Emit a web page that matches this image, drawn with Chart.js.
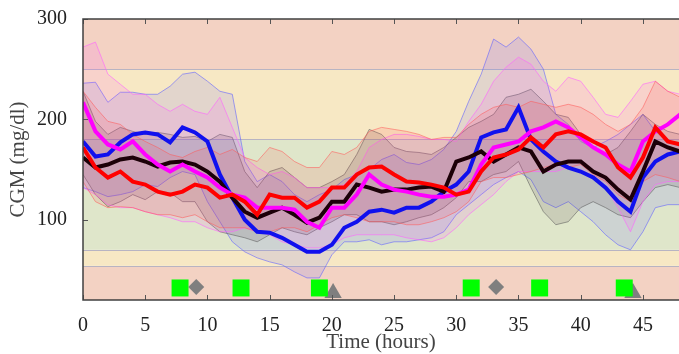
<!DOCTYPE html>
<html>
<head>
<meta charset="utf-8">
<script src="https://cdn.jsdelivr.net/npm/chart.js@4.4.1/dist/chart.umd.min.js"></script>
<style>
  html, body { margin: 0; padding: 0; background: #fff; }
  #wrap { width: 679px; height: 354px; }
</style>
</head>
<body>
<div id="wrap"><canvas id="cgmChart"></canvas></div>
<script>
// Time axis (hours)
const hours = [0,1,2,3,4,5,6,7,8,9,10,11,12,13,14,15,16,17,18,19,20,21,22,23,24,
               25,26,27,28,29,30,31,32,33,34,35,36,37,38,39,40,41,42,43,44,45,46,47,48];
const xTickValues = [0, 5, 10, 15, 20, 25, 30, 35, 40, 45];
const yTickValues = [100, 200, 300];

// Glycaemic zones (mg/dl) and their colours
const zoneEdges = [0, 54, 70, 180, 250, 400];
const zoneColors = ['#f3d2c3', '#f7e8c4', '#dfe6ca', '#f7e8c4', '#f3d2c3'];

// Mean curves
const blueMean    = [178,163,165,177,185,187,185,177,192,187,178,145,122,100,88,87,82,75,68,68,75,92,98,108,110,
                     107,112,112,118,128,135,148,182,187,190,212,180,168,158,152,148,142,132,118,108,142,158,165,168];
const blackMean   = [162,152,155,160,162,158,153,157,158,155,148,138,122,108,102,107,112,105,97,102,118,118,135,132,128,
                     130,130,132,133,128,158,162,168,158,165,172,168,148,155,158,158,148,142,130,120,148,178,172,168];
const magentaMean = [217,188,175,170,178,165,155,148,155,148,142,132,125,122,112,112,112,110,98,92,112,112,125,145,135,
                     130,128,125,123,123,125,130,155,172,175,178,188,192,198,192,182,172,165,155,148,178,188,195,205];
const redMean     = [172,152,142,148,138,135,128,125,128,135,132,122,125,118,105,125,122,122,112,118,132,132,145,152,153,
                     145,138,137,135,132,125,128,148,162,165,170,182,172,185,188,185,178,172,152,142,162,192,178,175];

// Spread bands (upper / lower)
const blueUpper  = [236,237,217,227,227,225,225,233,245,247,238,228,225,158,138,145,138,125,118,125,130,140,145,150,160,
                    165,157,155,160,170,188,218,245,280,272,282,270,250,205,195,178,172,178,185,195,205,188,178,175];
const blueLower  = [132,128,123,125,128,135,133,142,148,145,118,98,78,68,62,58,55,48,42,42,65,78,78,80,75,
                    78,78,80,82,88,105,115,125,135,142,148,140,118,112,118,108,98,85,75,70,88,112,115,115];
const grayUpper  = [228,198,185,192,188,185,187,185,182,183,178,185,182,148,132,148,152,142,132,132,138,145,165,190,185,
                    172,168,167,165,172,182,192,198,205,222,225,230,218,205,202,185,172,165,172,188,205,195,188,185];
const grayLower  = [145,125,113,118,125,120,128,127,118,118,98,88,85,82,78,85,92,88,85,92,98,105,105,98,98,
                    95,98,102,105,112,122,138,138,145,148,158,132,108,95,98,112,118,112,105,102,118,132,135,132];
const pinkUpper  = [272,277,245,235,225,225,215,208,215,208,205,222,192,162,152,145,148,142,132,132,132,135,148,172,180,
                    185,185,183,180,180,178,198,215,238,252,262,255,238,228,242,238,222,205,202,218,235,238,228,225];
const pinkLower  = [132,125,115,112,112,108,105,102,98,98,92,88,88,92,88,85,78,75,72,72,75,82,85,85,85,
                    85,82,80,78,82,92,105,115,125,138,148,148,148,148,152,148,142,132,112,88,118,135,138,138];
const redUpper   = [228,212,198,195,185,178,172,165,162,168,172,165,170,162,158,172,168,158,152,152,168,165,172,188,192,
                    190,188,185,180,182,182,195,205,212,215,212,218,215,212,215,212,205,195,188,195,212,238,228,222];
const redLower   = [138,118,112,113,112,108,105,105,102,105,98,92,92,92,88,88,92,92,88,95,102,105,102,98,98,
                    98,95,95,98,102,108,118,138,142,142,145,148,152,155,152,155,145,138,125,118,138,145,142,138];

// Event markers along the bottom
const mealTimes = [7.8, 12.7, 19.0, 31.2, 36.7, 43.5];
const insulinTimes = [9.1, 33.2];
const exerciseTimes = [20.1, 44.2];
const mealLevel = 32;
const insulinLevel = 33;
const exerciseLevel = 27;

const toPoints = (values) => values.map((v, i) => ({ x: hours[i], y: v }));
const toEvents = (times, level) => times.map(t => ({ x: t, y: level }));

function bandPair(upper, lower, lineColor, fillColor) {
    return [
        {
            data: toPoints(upper),
            borderColor: lineColor,
            borderWidth: 1,
            pointRadius: 0,
            fill: false,
            order: 20
        },
        {
            data: toPoints(lower),
            borderColor: lineColor,
            borderWidth: 1,
            pointRadius: 0,
            backgroundColor: fillColor,
            fill: '-1',
            order: 20
        }
    ];
}

function meanLine(values, color, order) {
    return {
        data: toPoints(values),
        borderColor: color,
        borderWidth: 4,
        pointRadius: 0,
        fill: false,
        order: order
    };
}

// Zone backgrounds and boundary lines
const zonePlugin = {
    id: 'zones',
    beforeDatasetsDraw(chart) {
        const { ctx, chartArea: a, scales: { y } } = chart;
        ctx.save();
        for (let i = 0; i < zoneColors.length; i++) {
            const top = y.getPixelForValue(Math.min(zoneEdges[i + 1], y.max));
            const bottom = y.getPixelForValue(Math.max(zoneEdges[i], y.min));
            ctx.fillStyle = zoneColors[i];
            ctx.fillRect(a.left, top, a.right - a.left, bottom - top);
        }
        ctx.strokeStyle = '#b8b4c2';
        ctx.lineWidth = 1;
        for (let i = 1; i < zoneEdges.length - 1; i++) {
            const py = Math.round(y.getPixelForValue(zoneEdges[i])) + 0.5;
            ctx.beginPath();
            ctx.moveTo(a.left, py);
            ctx.lineTo(a.right, py);
            ctx.stroke();
        }
        ctx.restore();
    }
};

// Axis frame with inward ticks (pgfplots look)
const framePlugin = {
    id: 'frame',
    afterDraw(chart) {
        const { ctx, chartArea: a, scales: { x, y } } = chart;
        ctx.save();
        ctx.strokeStyle = '#555';
        ctx.lineWidth = 1;
        xTickValues.forEach(v => {
            const px = Math.round(x.getPixelForValue(v)) + 0.5;
            ctx.beginPath();
            ctx.moveTo(px, a.bottom); ctx.lineTo(px, a.bottom - 5);
            ctx.moveTo(px, a.top); ctx.lineTo(px, a.top + 5);
            ctx.stroke();
        });
        yTickValues.forEach(v => {
            const py = Math.round(y.getPixelForValue(v)) + 0.5;
            ctx.beginPath();
            ctx.moveTo(a.left, py); ctx.lineTo(a.left + 5, py);
            ctx.stroke();
        });
        ctx.strokeStyle = '#404040';
        ctx.lineWidth = 1.5;
        ctx.beginPath();
        ctx.moveTo(a.right, a.top);
        ctx.lineTo(a.left, a.top);
        ctx.lineTo(a.left, a.bottom);
        ctx.lineTo(a.right, a.bottom);
        ctx.stroke();
        ctx.restore();
    }
};

const serif = "'Liberation Serif', 'DejaVu Serif', serif";

const ctx = document.getElementById('cgmChart').getContext('2d');
new Chart(ctx, {
    type: 'line',
    data: {
        datasets: [
            // markers (drawn on top)
            { data: toEvents(mealTimes, mealLevel), showLine: false, pointStyle: 'rect', pointRadius: 12,
              backgroundColor: '#00ff00', borderColor: '#00ff00', borderWidth: 0, order: 0 },
            { data: toEvents(insulinTimes, insulinLevel), showLine: false, pointStyle: 'rectRot', pointRadius: 8,
              backgroundColor: '#7f7f7f', borderColor: '#7f7f7f', borderWidth: 0, order: 0 },
            { data: toEvents(exerciseTimes, exerciseLevel), showLine: false, pointStyle: 'triangle', pointRadius: 10,
              backgroundColor: '#7f7f7f', borderColor: '#7f7f7f', borderWidth: 0, order: 0 },
            // mean curves
            meanLine(redMean, '#ff0000', 1),
            meanLine(magentaMean, '#ff00ff', 2),
            meanLine(blackMean, '#1c0008', 3),
            meanLine(blueMean, '#1010ee', 4),
            // spread bands
            ...bandPair(redUpper, redLower, 'rgba(255,90,90,0.55)', 'rgba(255,60,60,0.12)'),
            ...bandPair(pinkUpper, pinkLower, 'rgba(255,100,255,0.6)', 'rgba(255,60,255,0.12)'),
            ...bandPair(grayUpper, grayLower, 'rgba(90,90,90,0.55)', 'rgba(90,70,80,0.15)'),
            ...bandPair(blueUpper, blueLower, 'rgba(100,100,255,0.6)', 'rgba(110,110,255,0.15)')
        ]
    },
    options: {
        responsive: true,
        maintainAspectRatio: false,
        animation: false,
        layout: { autoPadding: false, padding: { top: 19, right: 0, left: 0, bottom: 0 } },
        plugins: {
            legend: { display: false },
            tooltip: { enabled: false }
        },
        elements: { line: { tension: 0 } },
        scales: {
            x: {
                type: 'linear',
                min: 0,
                max: 47.9,
                grid: { display: false },
                border: { display: false },
                afterBuildTicks: (s) => { s.ticks = xTickValues.map(v => ({ value: v })); },
                afterFit: (s) => { s.height = 54; s.paddingLeft = 0; s.paddingRight = 0; },
                ticks: { color: '#222', padding: 6, maxRotation: 0, font: { family: serif, size: 20 } },
                title: {
                    display: true,
                    text: 'Time (hours)',
                    color: '#444',
                    padding: { top: 0, bottom: 1 },
                    font: { family: serif, size: 21, lineHeight: 1 }
                }
            },
            y: {
                min: 20,
                max: 300,
                grid: { display: false },
                border: { display: false },
                afterBuildTicks: (s) => { s.ticks = yTickValues.map(v => ({ value: v })); },
                afterFit: (s) => { s.width = 83; s.paddingTop = 0; s.paddingBottom = 0; },
                ticks: { color: '#222', padding: 8, font: { family: serif, size: 20 } },
                title: {
                    display: true,
                    text: 'CGM (mg/dl)',
                    color: '#444',
                    padding: { top: 8, bottom: 0 },
                    font: { family: serif, size: 21, lineHeight: 1 }
                }
            }
        }
    },
    plugins: [zonePlugin, framePlugin]
});
</script>
</body>
</html>
